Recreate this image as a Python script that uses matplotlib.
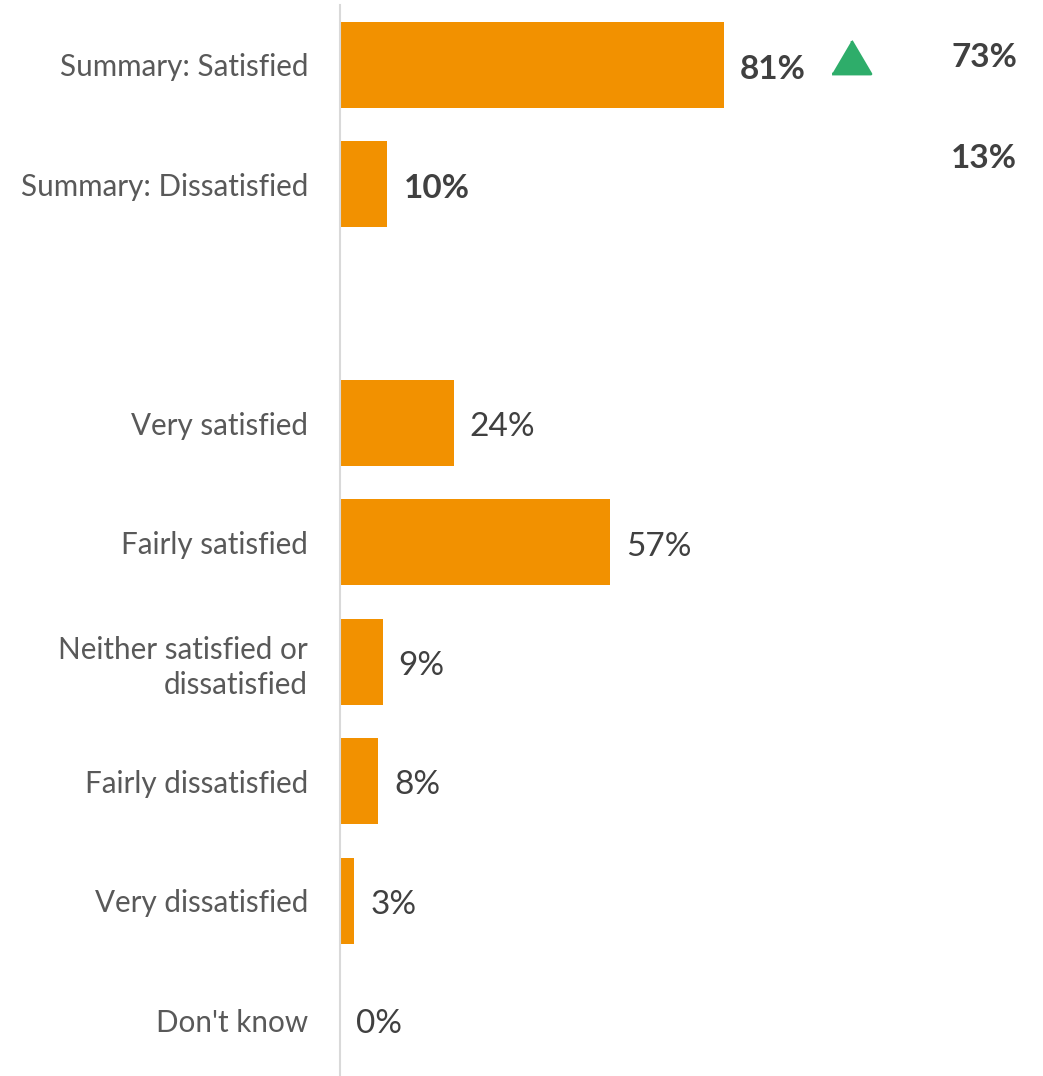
import matplotlib.pyplot as plt
from matplotlib.markers import MarkerStyle

plt.rcParams['font.family'] = ['Lato', 'DejaVu Sans']

categories = ['Summary: Satisfied', 'Summary: Dissatisfied', '',
              'Very satisfied', 'Fairly satisfied',
              'Neither satisfied or\ndissatisfied', 'Fairly dissatisfied',
              'Very dissatisfied', "Don't know"]
values = [81, 10, None, 24, 57, 9, 8, 3, 0]
bold_rows = [0, 1]
previous = [73, 13]

ORANGE = '#F29100'
GREEN = '#2EAD6A'

fig = plt.figure(figsize=(10.43, 10.76), dpi=100)
ax = fig.add_axes([0.326, 0.0, 0.674, 0.9954])

rows = list(range(len(categories)))
for i, v in zip(rows, values):
    if v is None:
        continue
    ax.barh(i, v, height=0.72, color=ORANGE)
    bold = i in bold_rows
    ax.annotate(f'{v}%', (v, i), xytext=(11.5, -3), textcoords='offset points',
                va='center', ha='left', fontsize=24,
                fontweight='bold' if bold else 'normal',
                color='#404040')

# change vs previous wave
tri = MarkerStyle([(-1, -0.85), (1, -0.85), (0, 0.85)], joinstyle='round')
ax.plot(107.8, -0.07, marker=tri, ms=28, color=GREEN, mec=GREEN, mew=2,
        clip_on=False)

# previous wave figures
for y, p in zip([-0.06, 0.78], previous):
    ax.text(142.8, y, f'{p}%', ha='right', va='center', fontsize=24,
            fontweight='bold', color='#404040')

ax.set_xlim(0, 148.3)
ax.set_ylim(8.469, -0.5025)
ax.set_yticks(rows)
ax.set_yticklabels(categories, fontsize=21.3, color='#595959',
                   linespacing=1.3)
ax.tick_params(axis='y', length=0, pad=23)
ax.set_xticks([])
for side in ['top', 'right', 'bottom']:
    ax.spines[side].set_visible(False)
ax.spines['left'].set_color('#D9D9D9')
ax.spines['left'].set_linewidth(1.5)

fig.savefig('out.png', dpi=100)
